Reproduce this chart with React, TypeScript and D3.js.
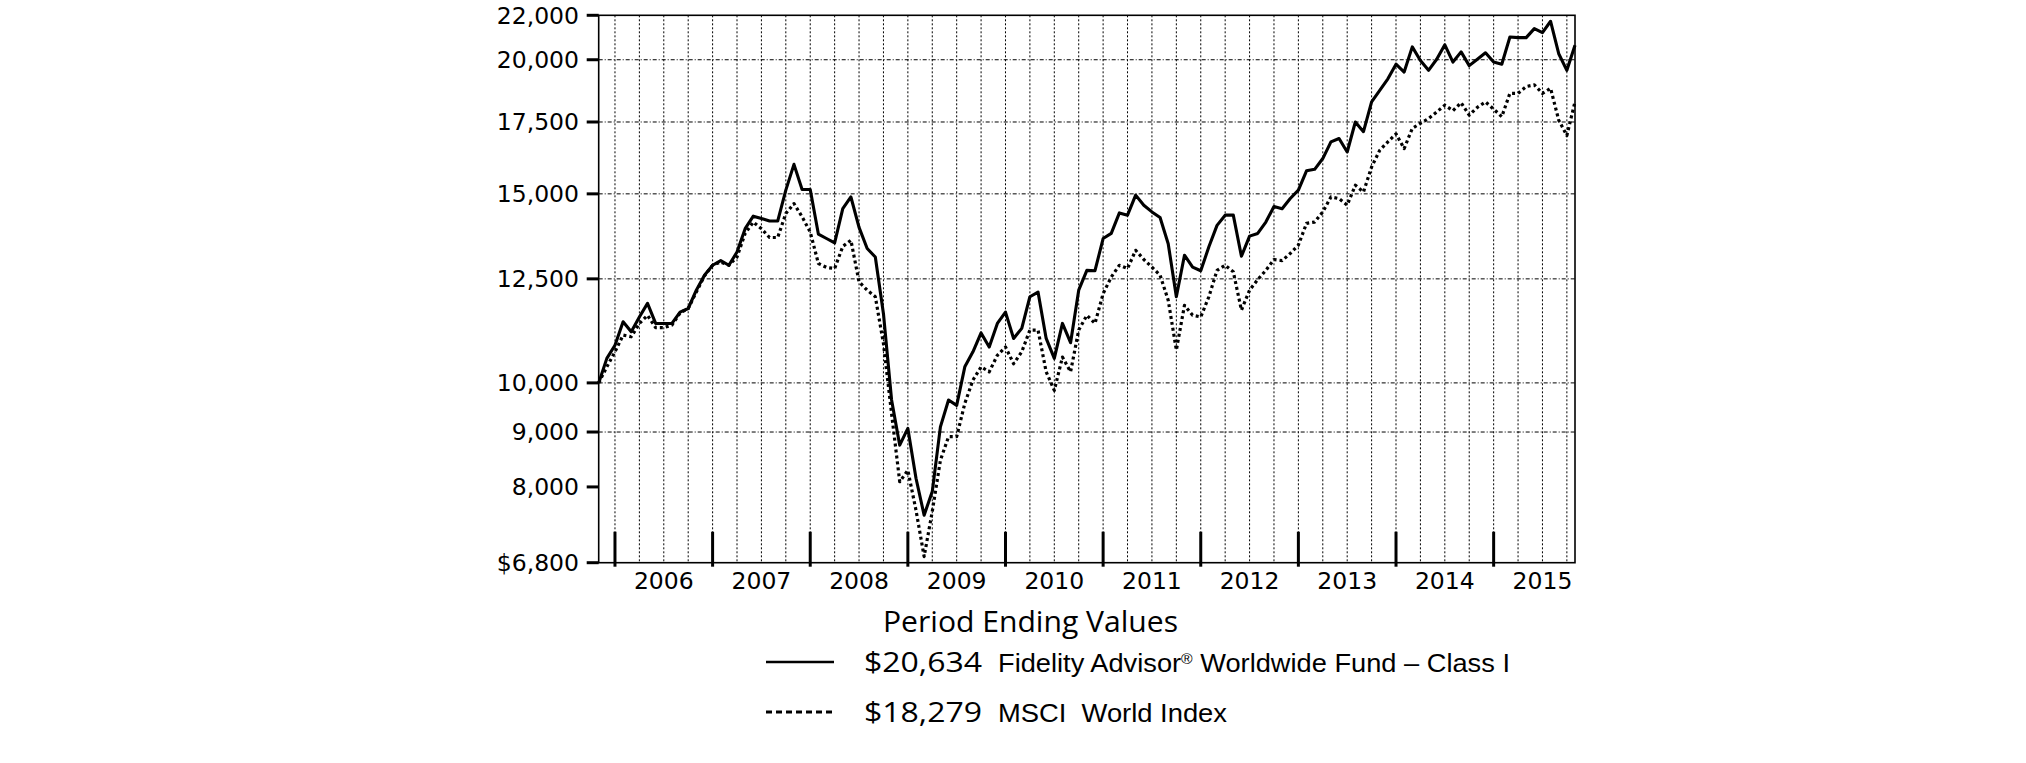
import React from "react";
import * as d3 from "d3";

const fundValues = [
  10000, 10540, 10840, 11400, 11160, 11520, 11860, 11360, 11360, 11360,
  11640, 11730, 12200, 12600, 12870, 13000, 12870, 13240, 13920, 14300,
  14230, 14150, 14150, 15120, 15980, 15140, 15140, 13760, 13630, 13500,
  14530, 14900, 13960, 13340, 13100, 11600, 9640, 8750, 9070, 8150,
  7530, 7920, 9100, 9640, 9530, 10350, 10690, 11130, 10800, 11360,
  11640, 11000, 11240, 12030, 12150, 11000, 10540, 11360, 10900, 12200,
  12730, 12720, 13630, 13780, 14400, 14330, 14960, 14640, 14430, 14260,
  13480, 12030, 13150, 12820, 12720, 13390, 14020, 14330, 14330, 13120,
  13700, 13780, 14120, 14600, 14530, 14850, 15120, 15760, 15810, 16180,
  16770, 16890, 16410, 17500, 17140, 18270, 18730, 19200, 19810, 19480,
  20560, 19970, 19550, 20020, 20650, 19900, 20340, 19750, 20020, 20300,
  19900, 19810, 21000, 20970, 20970, 21380, 21200, 21720, 20260, 19550,
  20634,
];

const indexValues = [
  10000, 10350, 10690, 11080, 11040, 11360, 11560, 11260, 11260, 11320,
  11620, 11730, 12150, 12580, 12870, 12960, 12870, 13100, 13780, 14120,
  13920, 13660, 13660, 14380, 14690, 14280, 13820, 12920, 12810, 12780,
  13400, 13580, 12420, 12200, 12030, 10880, 9360, 8090, 8290, 7610,
  6890, 7590, 8470, 8910, 8910, 9570, 10060, 10350, 10240, 10610,
  10800, 10420, 10690, 11200, 11200, 10240, 9840, 10570, 10240, 11200,
  11560, 11360, 12110, 12550, 12870, 12780, 13290, 13030, 12820, 12600,
  11940, 10730, 11810, 11560, 11520, 12030, 12730, 12870, 12690, 11690,
  12200, 12480, 12730, 13030, 13000, 13200, 13440, 14080, 14120, 14430,
  14900, 14850, 14640, 15280, 15060, 15890, 16470, 16770, 17060, 16530,
  17260, 17450, 17630, 17880, 18140, 17930, 18240, 17760, 18060, 18270,
  17990, 17700, 18610, 18610, 18880, 18950, 18610, 18810, 17570, 17000,
  18279,
];

const yearLabels = ["2006", "2007", "2008", "2009", "2010", "2011", "2012", "2013", "2014", "2015"];
const yTickValues = [6800, 8000, 9000, 10000, 12500, 15000, 17500, 20000, 22000];
const yGridValues = [9000, 10000, 12500, 15000, 17500, 20000];
const legendTitle = "Period Ending Values";
const seriesNames = ["Fidelity Advisor", "Worldwide Fund \u2013 Class I", "MSCI  World Index"];
const endingLabels = ["$20,634", "$18,279"];

export default function App() {
  const left = 598.7, right = 1575, top = 15.3, bottom = 562.7;
  const nMonths = fundValues.length - 1;
  const x = d3.scaleLinear().domain([0, nMonths]).range([left, right]);
  const y = d3.scaleLog().domain([6800, 22000]).range([bottom, top]);
  const line = d3.line<number>().x((_, i) => x(i)).y((d) => y(d));

  const fmt = d3.format(",");
  const quarterMonths = d3.range(2, nMonths + 1, 3);
  const yearStartMonths = yearLabels.map((_, k) => 2 + 12 * k);

  const humanist = "'Open Sans', 'Noto Sans', sans-serif";
  const narrow = "'Liberation Sans Narrow', 'Liberation Sans', Arial, sans-serif";

  return (
    <svg width={2026} height={763} style={{ position: "absolute", left: 0, top: 0, background: "#fff" }}>
      <rect x={0} y={0} width={2026} height={763} fill="#fff" />
      {/* vertical grid */}
      {quarterMonths.map((m) => (
        <line key={"vg" + m} x1={x(m)} x2={x(m)} y1={top} y2={bottom}
          stroke="#000" strokeWidth={1} strokeDasharray="2 2" />
      ))}
      {/* horizontal grid */}
      {yGridValues.map((v) => (
        <line key={"hg" + v} x1={left} x2={right} y1={y(v)} y2={y(v)}
          stroke="#000" strokeWidth={1} strokeDasharray="4 2 1 2" />
      ))}
      {/* series */}
      <path d={line(indexValues) || ""} fill="none" stroke="#000" strokeWidth={3.2}
        strokeDasharray="3 3" strokeLinejoin="round" />
      <path d={line(fundValues) || ""} fill="none" stroke="#000" strokeWidth={3.1}
        strokeLinejoin="round" />
      {/* frame */}
      <rect x={left} y={top} width={right - left} height={bottom - top} fill="none" stroke="#000" strokeWidth={1.6} />
      {/* y ticks */}
      {yTickValues.map((v) => (
        <g key={"yt" + v}>
          <line x1={left - 12} x2={left} y1={y(v)} y2={y(v)} stroke="#000" strokeWidth={3} />
          <text x={579} y={y(v)} dy="0.36em" textAnchor="end"
            fontFamily="'DejaVu Sans', Verdana, sans-serif" fontSize={23.5} fill="#000">
            {(v === 6800 ? "$" : "") + fmt(v)}
          </text>
        </g>
      ))}
      {/* year ticks */}
      {yearStartMonths.map((m) => (
        <line key={"yr" + m} x1={x(m)} x2={x(m)} y1={bottom - 31} y2={bottom + 4}
          stroke="#000" strokeWidth={3} />
      ))}
      {yearLabels.map((lab, k) => (
        <text key={lab} x={x(yearStartMonths[k] + 6)} y={589.3} textAnchor="middle"
          fontFamily="'DejaVu Sans', Verdana, sans-serif" fontSize={23.5} fill="#000">
          {lab}
        </text>
      ))}
      {/* legend */}
      <text x={883} y={632} fontFamily={humanist} fontSize={29}
        textLength={295} lengthAdjust="spacingAndGlyphs" fill="#000">{legendTitle}</text>
      <line x1={766} x2={834} y1={662} y2={662} stroke="#000" strokeWidth={2.6} />
      <text x={864} y={672} fontFamily={humanist} fontSize={28}
        textLength={118} lengthAdjust="spacingAndGlyphs" fill="#000">{endingLabels[0]}</text>
      <text x={998} y={672} fontFamily={narrow} fontSize={26}
        textLength={512} lengthAdjust="spacingAndGlyphs" fill="#000">
        {seriesNames[0]}
        <tspan fontSize={15} dy={-8}>{"\u00AE"}</tspan>
        <tspan dy={8}>{" " + seriesNames[1]}</tspan>
      </text>
      <line x1={766} x2={834} y1={712} y2={712} stroke="#000" strokeWidth={3} strokeDasharray="6 4" />
      <text x={864} y={722} fontFamily={humanist} fontSize={28}
        textLength={118} lengthAdjust="spacingAndGlyphs" fill="#000">{endingLabels[1]}</text>
      <text x={998} y={722} fontFamily={narrow} fontSize={26}
        textLength={229} lengthAdjust="spacingAndGlyphs" fill="#000" style={{ whiteSpace: "pre" }}>
        {seriesNames[2]}
      </text>
    </svg>
  );
}
